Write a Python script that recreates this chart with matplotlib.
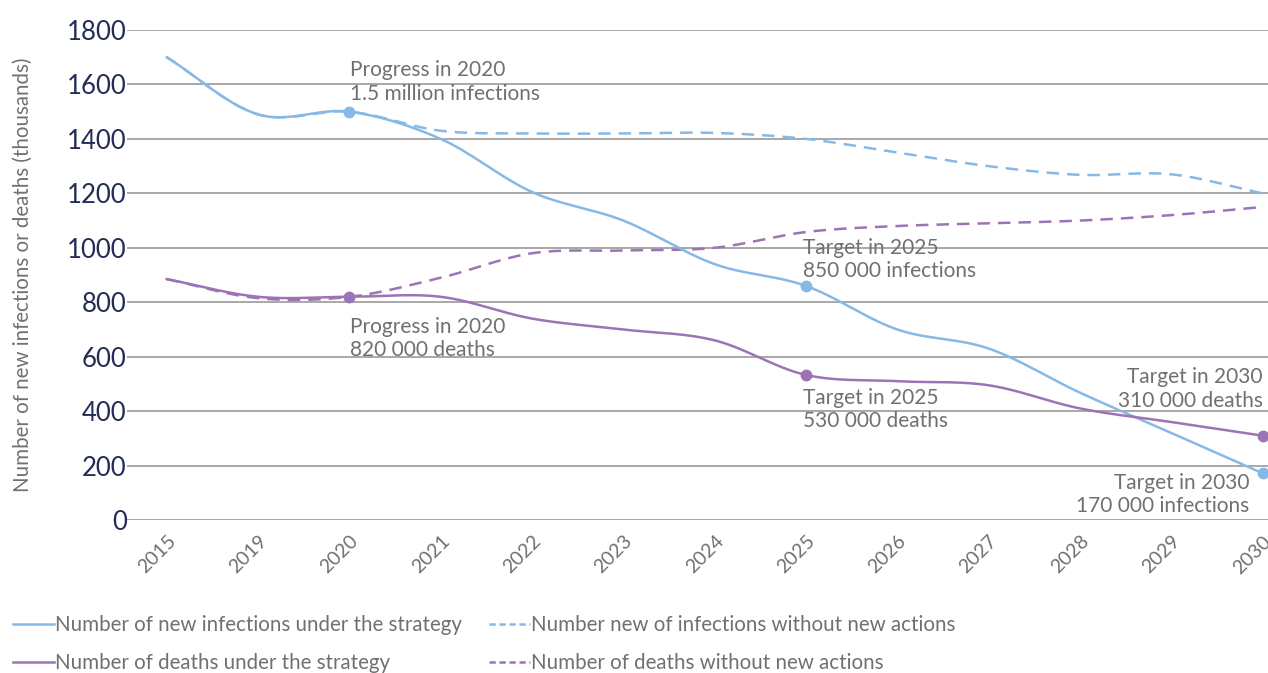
import numpy as np
import matplotlib
matplotlib.use("Agg")
import matplotlib.pyplot as plt
from matplotlib.lines import Line2D

plt.rcParams['font.family'] = ['Lato', 'DejaVu Sans']

years = ["2015", "2019", "2020", "2021", "2022", "2023", "2024", "2025",
         "2026", "2027", "2028", "2029", "2030"]
inf_strategy = [1700, 1490, 1500, 1400, 1205, 1100, 940, 860, 700, 630, 468, 320, 172]
inf_without = [1700, 1490, 1500, 1430, 1420, 1420, 1422, 1400, 1350, 1300, 1268, 1270, 1200]
death_strategy = [885, 820, 820, 820, 740, 700, 660, 533, 510, 495, 410, 360, 310]
death_without = [885, 815, 820, 890, 980, 990, 1000, 1058, 1080, 1090, 1100, 1120, 1150]

BLUE = "#86b9e6"
PURPLE = "#9c74b6"
GRAY_TXT = "#707070"
NAVY = "#232c56"


def smooth(x, y, n=30):
    """Catmull-Rom smoothing through the given points (rendering only)."""
    x = np.asarray(x, float)
    y = np.asarray(y, float)
    px = np.concatenate([[2 * x[0] - x[1]], x, [2 * x[-1] - x[-2]]])
    py = np.concatenate([[2 * y[0] - y[1]], y, [2 * y[-1] - y[-2]]])
    xs, ys = [], []
    t = np.linspace(0, 1, n, endpoint=False)

    def cr(P0, P1, P2, P3):
        return 0.5 * ((2 * P1) + (-P0 + P2) * t +
                      (2 * P0 - 5 * P1 + 4 * P2 - P3) * t ** 2 +
                      (-P0 + 3 * P1 - 3 * P2 + P3) * t ** 3)

    for i in range(1, len(px) - 2):
        xs.append(cr(px[i - 1], px[i], px[i + 1], px[i + 2]))
        ys.append(cr(py[i - 1], py[i], py[i + 1], py[i + 2]))
    xs.append([x[-1]])
    ys.append([y[-1]])
    return np.concatenate(xs), np.concatenate(ys)


fig = plt.figure(figsize=(12.68, 6.73), dpi=100)
ax = fig.add_axes([0.100, 0.2273, 0.900, 0.7281])

xi = np.arange(len(years))

ax.set_ylim(0, 1800)
ax.set_xlim(-0.438, 12.06)
ax.set_yticks(range(0, 1801, 200))
ax.yaxis.grid(True, color="#9a9a9a", linewidth=1.2)
ax.set_axisbelow(True)
for s in ax.spines.values():
    s.set_visible(False)
ax.tick_params(axis='both', length=0)
ax.tick_params(axis='y', labelsize=18.5, labelcolor=NAVY, pad=0)
ax.set_xticks(xi)
ax.set_xticklabels(years, rotation=45, ha='right', rotation_mode='anchor',
                   fontsize=14, color=GRAY_TXT)
ax.tick_params(axis='x', pad=9)

sx, sy = smooth(xi, inf_without)
ax.plot(sx, sy, color=BLUE, lw=1.8, ls=(0, (5, 3.2)))
sx, sy = smooth(xi, death_without)
ax.plot(sx, sy, color=PURPLE, lw=1.8, ls=(0, (5, 3.2)))
sx, sy = smooth(xi, inf_strategy)
ax.plot(sx, sy, color=BLUE, lw=1.8)
sx, sy = smooth(xi, death_strategy)
ax.plot(sx, sy, color=PURPLE, lw=1.8)

mark_idx = [2, 7, 12]
ax.plot(xi[mark_idx], np.array(inf_strategy)[mark_idx], 'o', color=BLUE, ms=7.5, clip_on=False, zorder=5)
ax.plot(xi[mark_idx], np.array(death_strategy)[mark_idx], 'o', color=PURPLE, ms=7.5, clip_on=False, zorder=5)

ax.set_ylabel("Number of new infections or deaths (thousands)", fontsize=14.8,
              color=GRAY_TXT)
ax.yaxis.set_label_coords(-0.082, 0.50)

k = 0.72  # px to points
ann = dict(fontsize=15, color=GRAY_TXT, textcoords='offset points', linespacing=1.2)
ax.annotate("Progress in 2020\n1.5 million infections", (2, inf_strategy[2]),
            xytext=(1 * k, 8 * k), ha='left', va='bottom', **ann)
ax.annotate("Progress in 2020\n820 000 deaths", (2, death_strategy[2]),
            xytext=(1 * k, -20 * k), ha='left', va='top', **ann)
ax.annotate("Target in 2025\n850 000 infections", (7, inf_strategy[7]),
            xytext=(-3 * k, 5 * k), ha='left', va='bottom', **ann)
ax.annotate("Target in 2025\n530 000 deaths", (7, death_strategy[7]),
            xytext=(-3 * k, -13 * k), ha='left', va='top', **ann)
ax.annotate("Target in 2030\n310 000 deaths", (12, death_strategy[12]),
            xytext=(0 * k, 25 * k), ha='right', va='bottom', **ann)
ax.annotate("Target in 2030\n170 000 infections", (12, inf_strategy[12]),
            xytext=(-13 * k, 0 * k), ha='right', va='top', **ann)

handles = [
    Line2D([], [], color=BLUE, lw=1.8),
    Line2D([], [], color=PURPLE, lw=1.8),
    Line2D([], [], color=BLUE, lw=1.8, ls=(0, (2.5, 1.5))),
    Line2D([], [], color=PURPLE, lw=1.8, ls=(0, (2.5, 1.5))),
]
labels = [
    "Number of new infections under the strategy",
    "Number of deaths under the strategy",
    "Number new of infections without new actions",
    "Number of deaths without new actions",
]
leg = fig.legend(handles, labels, loc='upper left', bbox_to_anchor=(0.004, 0.098),
                 ncol=2, frameon=False, fontsize=14.8, handlelength=2.0, handletextpad=0.05,
                 columnspacing=1.3, labelspacing=0.85, borderaxespad=0)
for t in leg.get_texts():
    t.set_color(GRAY_TXT)

fig.savefig("out.png", dpi=100)
